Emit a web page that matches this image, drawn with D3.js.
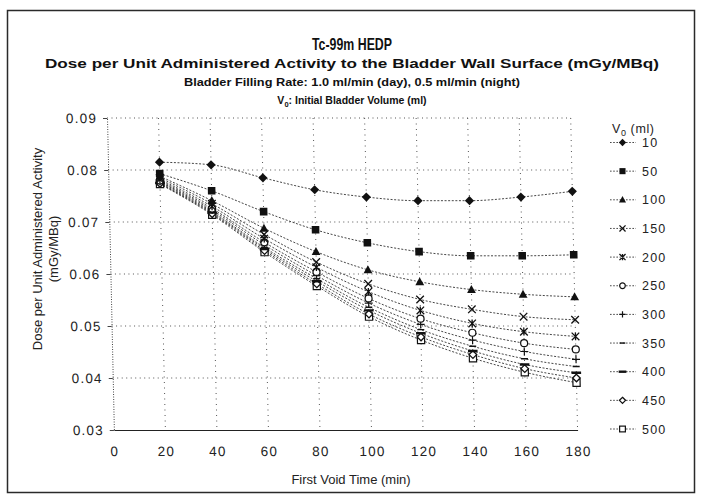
<!DOCTYPE html>
<html>
<head>
<meta charset="utf-8">
<script src="https://cdn.jsdelivr.net/npm/d3@7/dist/d3.min.js"></script>
<style>
  html, body { margin: 0; padding: 0; background: #fff; }
  svg { display: block; font-family: "Liberation Sans", Arial, Helvetica, sans-serif; }
</style>
</head>
<body>
<svg id="chart" width="703" height="499"></svg>
<script>
// First void time (min)
const times = [20, 40, 60, 80, 100, 120, 140, 160, 180];
// Initial bladder volume V0 (ml)
const volumes = [10, 50, 100, 150, 200, 250, 300, 350, 400, 450, 500];

// Dose per unit administered activity (mGy/MBq) for each V0
const dose10  = [0.0815, 0.0810, 0.0785, 0.0762, 0.0748, 0.0741, 0.0741, 0.0748, 0.0759];
const dose50  = [0.0793, 0.0760, 0.0720, 0.0685, 0.0660, 0.0643, 0.0635, 0.0635, 0.0637];
const dose100 = [0.0788, 0.0741, 0.0688, 0.0643, 0.0608, 0.0585, 0.0570, 0.0561, 0.0556];
const dose150 = [0.0785, 0.0735, 0.0676, 0.0623, 0.0581, 0.0551, 0.0532, 0.0518, 0.0512];
const dose200 = [0.0782, 0.0730, 0.0668, 0.0613, 0.0566, 0.0530, 0.0505, 0.0489, 0.0480];
const dose250 = [0.0780, 0.0726, 0.0661, 0.0604, 0.0553, 0.0514, 0.0487, 0.0467, 0.0455];
const dose300 = [0.0778, 0.0723, 0.0656, 0.0597, 0.0544, 0.0503, 0.0473, 0.0451, 0.0436];
const dose350 = [0.0777, 0.0720, 0.0651, 0.0591, 0.0536, 0.0493, 0.0461, 0.0437, 0.0422];
const dose400 = [0.0775, 0.0718, 0.0648, 0.0586, 0.0530, 0.0486, 0.0452, 0.0426, 0.0410];
const dose450 = [0.0774, 0.0716, 0.0645, 0.0581, 0.0523, 0.0479, 0.0445, 0.0418, 0.0400];
const dose500 = [0.0773, 0.0714, 0.0642, 0.0577, 0.0518, 0.0473, 0.0438, 0.0411, 0.0391];

const doses = [dose10, dose50, dose100, dose150, dose200, dose250, dose300, dose350, dose400, dose450, dose500];
const markerTypes = ["diamond", "square", "triangle", "x", "star", "circle", "plus", "dash", "longdash", "odiamond", "osquare"];

const xTicks = [0, 20, 40, 60, 80, 100, 120, 140, 160, 180];
const yTicks = [0.03, 0.04, 0.05, 0.06, 0.07, 0.08, 0.09];

const svg = d3.select("#chart");

// outer sheet frame
svg.append("rect")
  .attr("x", 7.5).attr("y", 10.5).attr("width", 687).attr("height", 482)
  .attr("fill", "#fff").attr("stroke", "#2a2a2a").attr("stroke-width", 1.5);

// titles
const titles = [
  { text: "Tc-99m HEDP", y: 49.5, size: 17, len: 80 },
  { text: "Dose per Unit Administered Activity to the Bladder Wall Surface (mGy/MBq)", y: 67.5, size: 12.5, len: 614 },
  { text: "Bladder Filling Rate: 1.0 ml/min (day), 0.5 ml/min (night)", y: 86, size: 10.5, len: 336 }
];
titles.forEach(t => {
  svg.append("text")
    .attr("x", 352).attr("y", t.y)
    .attr("text-anchor", "middle")
    .attr("font-weight", "bold").attr("font-size", t.size)
    .attr("fill", "#111")
    .attr("textLength", t.len).attr("lengthAdjust", "spacingAndGlyphs")
    .text(t.text);
});
const t4 = svg.append("text")
  .attr("x", 352).attr("y", 104)
  .attr("text-anchor", "middle")
  .attr("font-weight", "bold").attr("font-size", 10.5).attr("fill", "#111");
t4.append("tspan").text("V");
t4.append("tspan").attr("font-size", 7.5).attr("dy", 2.5).text("0");
t4.append("tspan").attr("dy", -2.5).text(": Initial Bladder Volume (ml)");

// plot area (the sheet carries a slight shear)
const plotW = 463.7, plotH = 312;
const shear = Math.atan(0.022) * 180 / Math.PI;
const g = svg.append("g").attr("transform", `translate(107,118) skewX(${shear})`);

const x = d3.scaleLinear().domain([0, 180]).range([0, plotW]);
const y = d3.scaleLinear().domain([0.03, 0.09]).range([plotH, 0]);

// gridlines
g.append("g").selectAll("line").data(yTicks.filter(v => v > 0.03)).join("line")
  .attr("x1", 0).attr("x2", plotW)
  .attr("y1", d => y(d)).attr("y2", d => y(d))
  .attr("stroke", "#555").attr("stroke-width", 1).attr("stroke-dasharray", "1,3.5");
g.append("g").selectAll("line").data(xTicks.filter(v => v > 0)).join("line")
  .attr("x1", d => x(d)).attr("x2", d => x(d))
  .attr("y1", 0).attr("y2", plotH)
  .attr("stroke", "#555").attr("stroke-width", 1).attr("stroke-dasharray", "1,4.5");

// axes
const yAxis = d3.axisLeft(y).tickValues(yTicks).tickSize(4).tickPadding(6).tickFormat(d3.format(".2f"));
const yAxisG = g.append("g").call(yAxis);
yAxisG.select(".domain").attr("stroke", "#444").attr("stroke-dasharray", "1,1.5");
yAxisG.selectAll(".tick line").attr("stroke", "#444");
yAxisG.selectAll("text").attr("font-size", 13.5).attr("letter-spacing", 1.2).attr("fill", "#222")
  .attr("font-family", "Liberation Sans, Arial, sans-serif");

const xAxis = d3.axisBottom(x).tickValues(xTicks).tickSize(0).tickPadding(16).tickFormat(d3.format("d"));
const xAxisG = g.append("g").attr("transform", `translate(0,${plotH})`).call(xAxis);
xAxisG.select(".domain").attr("stroke", "#222").attr("stroke-width", 1.2);
xAxisG.selectAll("text").attr("font-size", 13.5).attr("letter-spacing", 1.2).attr("fill", "#222")
  .attr("font-family", "Liberation Sans, Arial, sans-serif");

// marker shapes
function drawMarker(sel, type, s) {
  const k = s;
  const stroke = "#111";
  switch (type) {
    case "diamond":
      sel.append("path").attr("d", `M0,${-4.6*k}L${4.6*k},0L0,${4.6*k}L${-4.6*k},0Z`).attr("fill", stroke);
      break;
    case "square":
      sel.append("rect").attr("x", -3.8*k).attr("y", -3.8*k).attr("width", 7.6*k).attr("height", 7.6*k).attr("fill", stroke);
      break;
    case "triangle":
      sel.append("path").attr("d", `M0,${-4.6*k}L${4.4*k},${3.4*k}L${-4.4*k},${3.4*k}Z`).attr("fill", stroke);
      break;
    case "x":
      sel.append("path").attr("d", `M${-3.8*k},${-3.8*k}L${3.8*k},${3.8*k}M${3.8*k},${-3.8*k}L${-3.8*k},${3.8*k}`)
        .attr("stroke", stroke).attr("stroke-width", 1.3).attr("fill", "none");
      break;
    case "star":
      sel.append("path").attr("d", `M${-3.8*k},${-3.8*k}L${3.8*k},${3.8*k}M${3.8*k},${-3.8*k}L${-3.8*k},${3.8*k}M0,${-3.8*k}L0,${3.8*k}`)
        .attr("stroke", stroke).attr("stroke-width", 1.3).attr("fill", "none");
      break;
    case "circle":
      sel.append("circle").attr("r", 3.5*k).attr("fill", "#fff").attr("stroke", stroke).attr("stroke-width", 1.2);
      break;
    case "plus":
      sel.append("path").attr("d", `M${-4*k},0L${4*k},0M0,${-4*k}L0,${4*k}`)
        .attr("stroke", stroke).attr("stroke-width", 1.2).attr("fill", "none");
      break;
    case "dash":
      sel.append("path").attr("d", `M${-3.5*k},0L${3.5*k},0`)
        .attr("stroke", stroke).attr("stroke-width", 1.4).attr("fill", "none");
      break;
    case "longdash":
      sel.append("path").attr("d", `M${-4.8*k},0L${4.8*k},0`)
        .attr("stroke", stroke).attr("stroke-width", 2.4).attr("fill", "none");
      break;
    case "odiamond":
      sel.append("path").attr("d", `M0,${-3.8*k}L${3.8*k},0L0,${3.8*k}L${-3.8*k},0Z`)
        .attr("fill", "#fff").attr("stroke", stroke).attr("stroke-width", 1.3);
      break;
    case "osquare":
      sel.append("rect").attr("x", -3.6*k).attr("y", -3.6*k).attr("width", 7.2*k).attr("height", 7.2*k)
        .attr("fill", "#fff").attr("stroke", stroke).attr("stroke-width", 1.2);
      break;
  }
}

// series lines
const line = d3.line().x(d => x(d[0])).y(d => y(d[1])).curve(d3.curveMonotoneX);
const seriesG = g.append("g");
doses.forEach((vals, i) => {
  const pts = times.map((t, j) => [t, vals[j]]);
  seriesG.append("path").datum(pts)
    .attr("d", line)
    .attr("fill", "none").attr("stroke", "#333").attr("stroke-width", 0.9)
    .attr("stroke-dasharray", "2,1.6");
});
// markers on top, smaller volumes last so the upper curves stay visible
for (let i = doses.length - 1; i >= 0; i--) {
  const pts = times.map((t, j) => [t, doses[i][j]]);
  pts.forEach(p => {
    const m = seriesG.append("g").attr("transform", `translate(${x(p[0])},${y(p[1])})`);
    drawMarker(m, markerTypes[i], 1);
  });
}

// axis titles
svg.append("text")
  .attr("x", 351).attr("y", 484)
  .attr("text-anchor", "middle").attr("font-size", 13).attr("fill", "#222")
  .text("First Void Time (min)");

const yTitle = svg.append("g").attr("transform", "translate(0,249) rotate(-90)");
yTitle.append("text").attr("x", 0).attr("y", 42)
  .attr("text-anchor", "middle").attr("font-size", 13).attr("fill", "#222")
  .text("Dose per Unit Administered Activity");
yTitle.append("text").attr("x", 0).attr("y", 58)
  .attr("text-anchor", "middle").attr("font-size", 13).attr("fill", "#222")
  .text("(mGy/MBq)");

// legend
const legend = svg.append("g");
const lt = legend.append("text").attr("x", 612).attr("y", 133).attr("font-size", 12.5).attr("fill", "#222")
  .attr("letter-spacing", 0.6);
lt.append("tspan").text("V");
lt.append("tspan").attr("font-size", 9).attr("dy", 3).text("0");
lt.append("tspan").attr("dy", -3).text(" (ml)");

const legendY = d3.scaleLinear().domain([0, volumes.length - 1]).range([142.5, 429]);
volumes.forEach((v, i) => {
  const row = legend.append("g").attr("transform", `translate(0,${legendY(i)})`);
  row.append("line").attr("x1", 610).attr("x2", 636).attr("y1", 0).attr("y2", 0)
    .attr("stroke", "#333").attr("stroke-width", 0.9).attr("stroke-dasharray", "1.6,1.6");
  const m = row.append("g").attr("transform", "translate(622.5,0)");
  drawMarker(m, markerTypes[i], 0.8);
  row.append("text").attr("x", 642).attr("y", 4.5)
    .attr("font-size", 12.5).attr("letter-spacing", 1.2).attr("fill", "#222")
    .text(v);
});
</script>
</body>
</html>
